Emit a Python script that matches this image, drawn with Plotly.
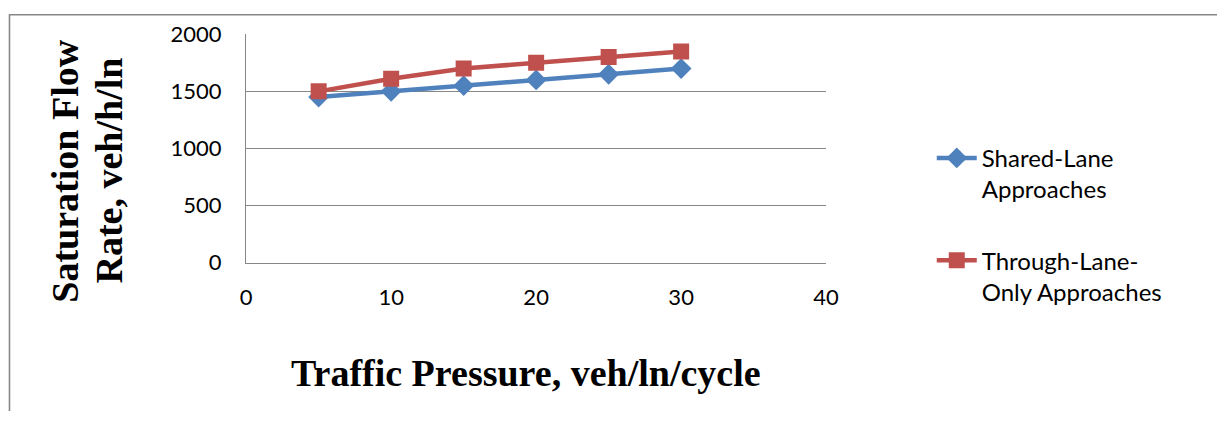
import plotly.graph_objects as go

pressure = [5, 10, 15, 20, 25, 30]
shared_lane = [1450, 1500, 1550, 1600, 1650, 1700]
through_lane = [1500, 1610, 1700, 1750, 1800, 1850]
series_names = ["Shared-Lane<br>Approaches", "Through-Lane-<br>Only Approaches"]
x_ticks = [0, 10, 20, 30, 40]
y_ticks = [0, 500, 1000, 1500, 2000]

W, H = 1230, 424
# placement calibration of the captured page (offset and scale of the snapshot)
AX, AY, SX, SY = 5.0, 14.5, 0.988, 0.934
BLUE = "#4F81BD"
RED = "#C0504D"
GRID = "#878787"


def px(X):
    return ((X - AX) / SX) / W


def py(Y):
    return 1 - ((Y - AY) / SY) / H


fig = go.Figure()
fig.add_trace(go.Scatter(
    x=pressure, y=shared_lane, name=series_names[0], mode="lines+markers",
    legendgroup="a",
    line=dict(color=BLUE, width=4.5),
    marker=dict(symbol="diamond", size=16, color=BLUE),
))
fig.add_trace(go.Scatter(
    x=pressure, y=through_lane, name=series_names[1], mode="lines+markers",
    legendgroup="b",
    line=dict(color=RED, width=4.5),
    marker=dict(symbol="square", size=16, color=RED),
))

tick_font = dict(family="Lato", size=22, color="#000000")
title_font = dict(family="Liberation Serif", size=38, color="#000000")

fx0 = px(8.5)
fy1 = 1 - 0.8 / H
frame_path = f"M {fx0},0 L {fx0},{fy1} L 1,{fy1}"

fig.update_layout(
    width=W, height=H,
    margin=dict(l=0, r=0, t=0, b=0),
    paper_bgcolor="white", plot_bgcolor="white",
    showlegend=True,
    legend=dict(
        x=px(934), y=py(136), xanchor="left", yanchor="top",
        font=dict(family="Lato", size=24, color="#000000"),
        valign="top", traceorder="grouped", tracegroupgap=37, itemwidth=40,
        bgcolor="rgba(0,0,0,0)",
    ),
    xaxis=dict(
        domain=[px(246), px(828)], range=[0, 40], tickvals=x_ticks,
        showgrid=False, zeroline=False, showline=True, linecolor=GRID, linewidth=1.3,
        ticks="", tickfont=tick_font, ticklabelstandoff=15,
    ),
    yaxis=dict(
        domain=[py(262.5), py(34.5)], range=[0, 2002], tickvals=y_ticks,
        showgrid=True, gridcolor=GRID, gridwidth=1.3,
        zeroline=False, showline=True, linecolor=GRID, linewidth=1.3,
        ticks="", tickfont=tick_font, ticklabelstandoff=19,
    ),
    shapes=[
        dict(type="path", xref="paper", yref="paper", path=frame_path,
             line=dict(color=GRID, width=1.6), layer="below"),
    ],
    annotations=[
        dict(text="<b>Traffic Pressure, veh/ln/cycle</b>", xref="paper", yref="paper",
             x=px(527), y=py(373), xanchor="center", yanchor="middle",
             showarrow=False, font=title_font),
        dict(text="<b>Saturation Flow</b>", xref="paper", yref="paper",
             x=px(64), y=py(171), xanchor="center", yanchor="middle",
             textangle=-90, showarrow=False, font=title_font),
        dict(text="<b>Rate, veh/h/ln</b>", xref="paper", yref="paper",
             x=px(108), y=py(171), xanchor="center", yanchor="middle",
             textangle=-90, showarrow=False, font=title_font),
    ],
)

fig.write_html("out.html")
